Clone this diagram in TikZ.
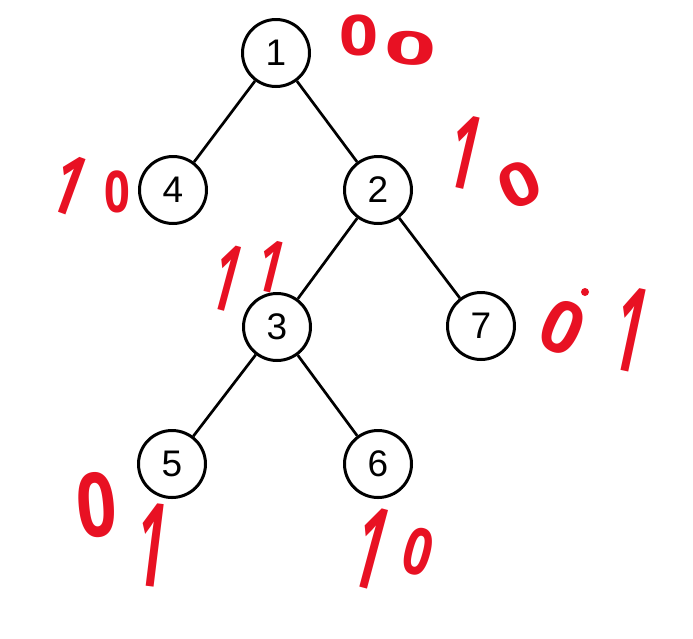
\documentclass[tikz,border=0pt]{standalone}
\usepackage{fontspec}
\setmainfont{Liberation Sans}
\newfontfamily\scrawlfont{Open Sans}
\definecolor{inkred}{RGB}{232,17,35}

\begin{document}
\begin{tikzpicture}[x=1pt,y=-1pt,
    vertex/.style={circle, draw, line width=3pt, minimum size=67pt, inner sep=0pt,
                   font=\fontsize{37}{37}\selectfont},
    edge/.style={line width=2.7pt},
    scrawl/.style={text=inkred, inner sep=0pt, transform shape,
                   font=\scrawlfont\bfseries\fontsize{50}{50}\selectfont}]
    \useasboundingbox (0,0) rectangle (693,638);

    % tree nodes
    \node[vertex] (n1) at (276,53)  {1};
    \node[vertex] (n4) at (173,190) {4};
    \node[vertex] (n2) at (378,190) {2};
    \node[vertex] (n3) at (277,327) {3};
    \node[vertex] (n7) at (481,326) {7};
    \node[vertex] (n5) at (172,464) {5};
    \node[vertex] (n6) at (378,464) {6};

    % edges
    \foreach \a/\b in {n1/n4,n1/n2,n2/n3,n2/n7,n3/n5,n3/n6} {
        \draw[edge] (\a) -- (\b);
    }

    % handwritten codes
    \node[scrawl, xscale=1.36, yscale=1.12] (c1a) at (359,35) {0};
    \node[scrawl, rotate=-5, xscale=1.8, yscale=0.92] (c1b) at (411,48) {0};

    \node[scrawl, rotate=-20, xscale=1.05, yscale=1.65] (c4a) at (70,185) {1};
    \node[scrawl, xscale=0.9, yscale=1.15] (c4b) at (117,192) {0};

    \node[scrawl, rotate=-13, xscale=1.05, yscale=2.05] (c2a) at (465,152) {1};
    \node[scrawl, rotate=25, xscale=1.4, yscale=1.2] (c2b) at (520,185) {0};

    \node[scrawl, rotate=-15, xscale=0.9, yscale=1.85] (c3a) at (227,278) {1};
    \node[scrawl, rotate=-14, xscale=0.9, yscale=1.45] (c3b) at (271,266) {1};

    \node[scrawl, rotate=-25, xscale=1.4, yscale=1.45] (c7a) at (563,327) {0};
    \fill[inkred] (585,292) circle (4);
    \node[scrawl, rotate=-12, xscale=1.05, yscale=2.35] (c7b) at (631,330) {1};

    \node[scrawl, rotate=5, xscale=1.4, yscale=1.78] (c5a) at (97,505) {0};
    \node[scrawl, rotate=-7, xscale=1.05, yscale=2.33] (c5b) at (152,545) {1};

    \node[scrawl, rotate=-15, xscale=1.05, yscale=2.28] (c6a) at (371,548) {1};
    \node[scrawl, rotate=-15, yscale=1.3] (c6b) at (418,552) {0};
\end{tikzpicture}
\end{document}
